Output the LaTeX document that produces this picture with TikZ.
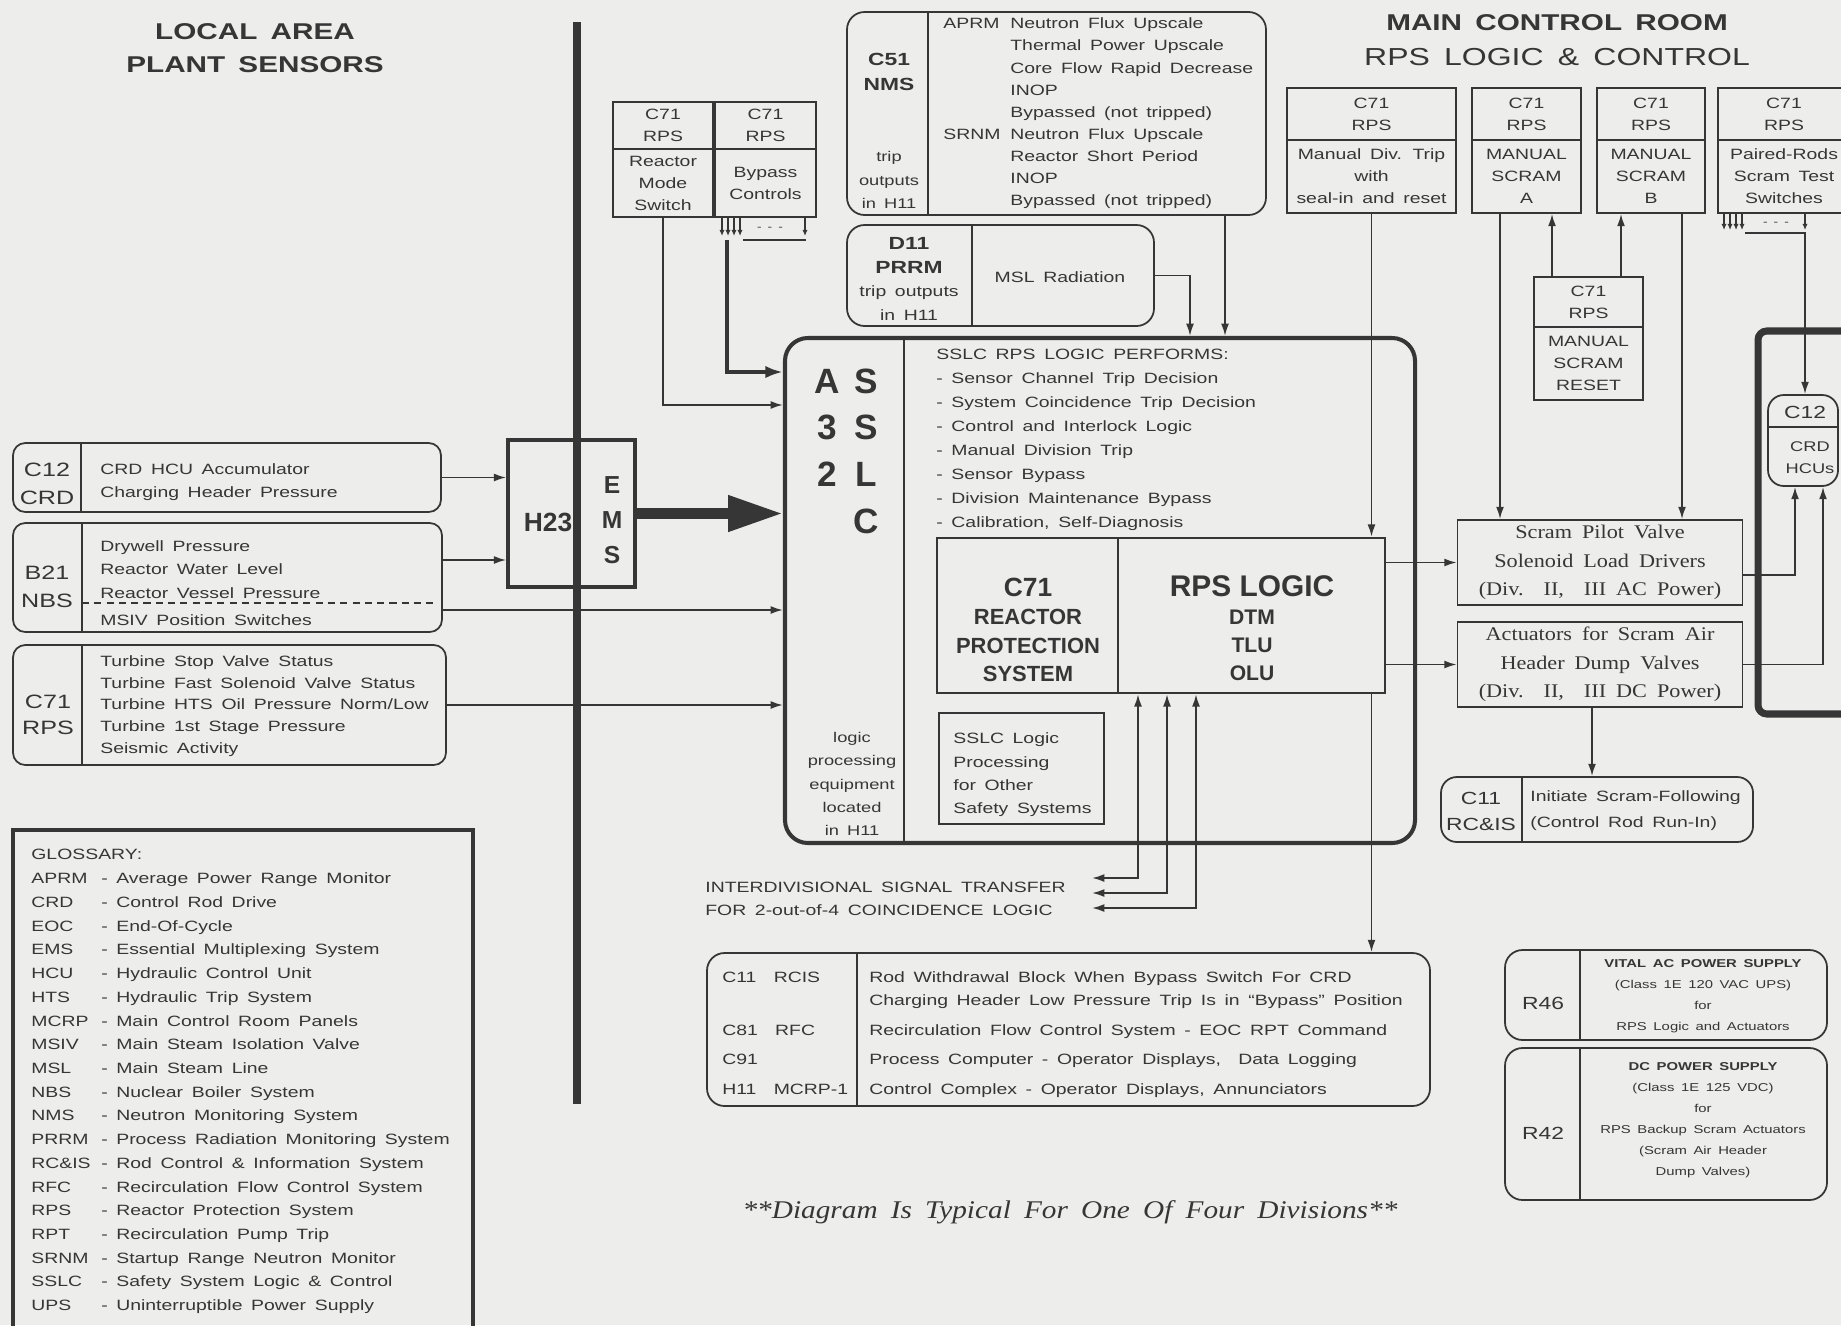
\documentclass[tikz,border=0pt]{standalone}
\usepackage{fontspec}
\setmainfont{Liberation Sans}[FakeStretch=1.3, WordSpace=1.6]
\newfontfamily\plainsans{Liberation Sans}
\newfontfamily\notefont{Liberation Serif}[FakeStretch=1.15, WordSpace=1.8]
\usetikzlibrary{arrows.meta, positioning, fit, calc}
\usepackage{xcolor}
\definecolor{ink}{HTML}{363636}
\definecolor{paper}{HTML}{EDEDEB}
\tikzset{
    box/.style={
        rectangle, draw=ink, line width=1pt, inner sep=0pt,
        text=ink, align=center, font=\fontsize{8.5}{12.5}\selectfont
    },
    roundbox/.style={
        box, rounded corners=7pt
    },
    headcell/.style={
        box, minimum height=#1
    },
    txt/.style={
        inner sep=0pt, text=ink, align=center, font=\fontsize{8.5}{12.5}\selectfont
    },
    tagtxt/.style={
        txt, font=\fontsize{11}{15.8}\selectfont
    },
    bigtxt/.style={
        txt, font=\plainsans\bfseries\fontsize{14}{19.8}\selectfont
    },
    valvebox/.style={
        box, minimum width=5.7cm, minimum height=1.7cm,
        font=\notefont\fontsize{11}{16.2}\selectfont
    },
    arrow/.style={
        -{Latex[length=7pt,width=4.5pt]}, line width=1pt, draw=ink
    },
    twoway/.style={
        {Latex[length=7pt,width=4.5pt]}-{Latex[length=7pt,width=4.5pt]}, line width=1pt, draw=ink
    },
    thickarrow/.style={
        -{Latex[length=10pt,width=7pt]}, line width=2.4pt, draw=ink
    },
    bigarrow/.style={
        -{Triangle[length=1.1cm,width=0.68cm]}, line width=6pt, draw=ink
    },
    bustip/.style={
        -{Latex[length=3.5pt,width=3pt]}, line width=0.8pt, draw=ink
    },
    heavy/.style={
        line width=4pt, draw=ink
    },
    divider/.style={
        line width=1pt, draw=ink
    }
}

\begin{document}
\begin{tikzpicture}[x=0.02cm, y=-0.02cm]

    \useasboundingbox (0,0) rectangle (1841,1325);
    \clip (0,0) rectangle (1841,1325);
    \fill[paper] (0,0) rectangle (1841,1325);

    % titles
    \node[txt, font=\bfseries\fontsize{13}{18.7}\selectfont] (localtitle) at (255,48) {LOCAL AREA\\PLANT SENSORS};
    \node[txt, font=\bfseries\fontsize{13}{15}\selectfont]   (mcrtitle)   at (1557,23) {MAIN CONTROL ROOM};
    \node[txt, font=\fontsize{14}{16}\selectfont]             (mcrsub)     at (1557,57) {RPS LOGIC \& CONTROL};

    \draw[heavy] (577,22) -- (577,1104);

    % local area sensors
    \node[roundbox, fit={(13,443) (441,512)}] (c12) {};
    \draw[divider] (81,443) -- (81,512);
    \node[tagtxt] (c12tag) at (47,484) {C12\\CRD};
    \node[txt, anchor=west, align=left, font=\fontsize{8.5}{13}\selectfont] (c12sig) at (100,482)
        {CRD HCU Accumulator\\Charging Header Pressure};

    \node[roundbox, fit={(13,523) (442,632)}] (b21) {};
    \draw[divider] (82,523) -- (82,632);
    \draw[divider, dash pattern=on 4pt off 3pt] (82,603) -- (436,603);
    \node[tagtxt] (b21tag) at (47,587) {B21\\NBS};
    \node[txt, anchor=west, align=left, font=\fontsize{8.5}{13.3}\selectfont] (b21sig) at (100,583)
        {Drywell Pressure\\Reactor Water Level\\Reactor Vessel Pressure\\[2pt]MSIV Position Switches};

    \node[roundbox, fit={(13,645) (446,765)}] (c71s) {};
    \draw[divider] (82,645) -- (82,765);
    \node[tagtxt, font=\fontsize{11}{14.7}\selectfont] (c71stag) at (48,715) {C71\\RPS};
    \node[txt, anchor=west, align=left, font=\fontsize{8.5}{12.3}\selectfont] (c71ssig) at (100,706)
        {Turbine Stop Valve Status\\Turbine Fast Solenoid Valve Status\\Turbine HTS Oil Pressure Norm/Low\\Turbine 1st Stage Pressure\\Seismic Activity};

    \node[box, line width=2pt, fit={(508,440) (635,587)}] (h23) {};
    \node[txt, font=\plainsans\bfseries\fontsize{15}{18}\selectfont] (h23tag) at (548,522) {H23};
    \node[bigtxt] (ems) at (612,520) {E\\M\\S};

    % glossary
    \node[box, line width=1.8pt, fit={(13,830) (473,1345)}] (glossary) {};
    \node[txt, anchor=north west, font=\fontsize{8.5}{13.5}\selectfont] (glossarytxt) at (31,843) {%
        \begin{tabular}{@{}p{1.4cm}@{}p{0.3cm}@{}l@{}}
        \multicolumn{3}{@{}l@{}}{GLOSSARY:}\\
        APRM  & - & Average Power Range Monitor\\
        CRD   & - & Control Rod Drive\\
        EOC   & - & End-Of-Cycle\\
        EMS   & - & Essential Multiplexing System\\
        HCU   & - & Hydraulic Control Unit\\
        HTS   & - & Hydraulic Trip System\\
        MCRP  & - & Main Control Room Panels\\
        MSIV  & - & Main Steam Isolation Valve\\
        MSL   & - & Main Steam Line\\
        NBS   & - & Nuclear Boiler System\\
        NMS   & - & Neutron Monitoring System\\
        PRRM  & - & Process Radiation Monitoring System\\
        RC\&IS & - & Rod Control \& Information System\\
        RFC   & - & Recirculation Flow Control System\\
        RPS   & - & Reactor Protection System\\
        RPT   & - & Recirculation Pump Trip\\
        SRNM  & - & Startup Range Neutron Monitor\\
        SSLC  & - & Safety System Logic \& Control\\
        UPS   & - & Uninterruptible Power Supply
        \end{tabular}};

    % switches and monitors above SSLC
    \node[headcell=0.94cm, minimum width=2.0cm]  (rmhead) at (663,125.5)  {C71\\RPS};
    \node[headcell=1.36cm, minimum width=2.0cm]  (rmbody) at (663,183)    {Reactor\\Mode\\Switch};
    \node[headcell=0.94cm, minimum width=2.02cm] (bphead) at (765.5,125.5) {C71\\RPS};
    \node[headcell=1.36cm, minimum width=2.02cm] (bpbody) at (765.5,183)   {Bypass\\Controls};

    \draw[bustip] (722,218) -- (722,236);
    \draw[bustip] (728,218) -- (728,236);
    \draw[bustip] (734,218) -- (734,236);
    \draw[bustip] (740,218) -- (740,236);
    \node[txt, font=\fontsize{6}{6}\selectfont] (bpdots) at (770,229) {- - -};
    \draw[bustip] (805,218) -- (805,236);
    \draw[divider, line width=0.8pt] (743,240) -- (806,240);
    \coordinate (bpbus) at (727,240);

    \node[roundbox, rounded corners=10pt, fit={(847,12) (1266,215)}] (c51) {};
    \draw[divider] (928,12) -- (928,215);
    \node[txt, font=\bfseries\fontsize{10}{14.7}\selectfont] (c51tag) at (889,72) {C51\\NMS};
    \node[txt, font=\fontsize{8}{13.3}\selectfont] (c51trip) at (889,180) {trip\\outputs\\in H11};
    \node[txt, anchor=north west, font=\fontsize{8.5}{12.6}\selectfont] (c51list) at (943,13) {%
        \begin{tabular}{@{}p{1.34cm}@{}l@{}}
        APRM & Neutron Flux Upscale\\
             & Thermal Power Upscale\\
             & Core Flow Rapid Decrease\\
             & INOP\\
             & Bypassed (not tripped)\\
        SRNM & Neutron Flux Upscale\\
             & Reactor Short Period\\
             & INOP\\
             & Bypassed (not tripped)
        \end{tabular}};

    \node[roundbox, rounded corners=10pt, fit={(847,225) (1154,326)}] (d11) {};
    \draw[divider] (972,225) -- (972,326);
    \node[txt, font=\fontsize{8.5}{13.4}\selectfont] (d11tag) at (909,279)
        {{\bfseries\fontsize{10}{13.4}\selectfont D11}\\{\bfseries\fontsize{10}{13.4}\selectfont PRRM}\\trip outputs\\in H11};
    \node[txt] (msl) at (1060,277) {MSL Radiation};

    % main control room switches
    \node[headcell=1.04cm, minimum width=3.38cm] (mdhead) at (1371.5,114)   {C71\\RPS};
    \node[headcell=1.46cm, minimum width=3.38cm] (mdbody) at (1371.5,176.5) {Manual Div. Trip\\with\\seal-in and reset};
    \node[headcell=1.04cm, minimum width=2.18cm] (sahead) at (1526.5,114)   {C71\\RPS};
    \node[headcell=1.46cm, minimum width=2.18cm] (sabody) at (1526.5,176.5) {MANUAL\\SCRAM\\A};
    \node[headcell=1.04cm, minimum width=2.16cm] (sbhead) at (1651,114)     {C71\\RPS};
    \node[headcell=1.46cm, minimum width=2.16cm] (sbbody) at (1651,176.5)   {MANUAL\\SCRAM\\B};
    \node[headcell=1.04cm, minimum width=2.64cm] (prhead) at (1784,114)     {C71\\RPS};
    \node[headcell=1.46cm, minimum width=2.64cm] (prbody) at (1784,176.5)   {Paired-Rods\\Scram Test\\Switches};
    \node[headcell=1.0cm,  minimum width=2.18cm] (rshead) at (1588.5,302)   {C71\\RPS};
    \node[headcell=1.46cm, minimum width=2.18cm] (rsbody) at (1588.5,363.5) {MANUAL\\SCRAM\\RESET};

    \draw[bustip] (1724,214) -- (1724,230);
    \draw[bustip] (1730,214) -- (1730,230);
    \draw[bustip] (1736,214) -- (1736,230);
    \draw[bustip] (1742,214) -- (1742,230);
    \node[txt, font=\fontsize{6}{6}\selectfont] (prdots) at (1776,224) {- - -};
    \draw[bustip] (1805,214) -- (1805,230);
    \draw[divider, line width=0.8pt] (1745,233) -- (1806,233);
    \coordinate (prbus) at (1805,233);

    % SSLC cabinet
    \node[box, line width=2.3pt, rounded corners=13pt, fit={(785,338) (1415,843)}] (a3) {};
    \draw[divider] (904,338) -- (904,843);
    \node[txt, font=\plainsans\bfseries\fontsize{20}{26.6}\selectfont] (a3sslc) at (847,454)
        {\begin{tabular}{@{}c@{\hspace{0.27cm}}c@{}}A&S\\3&S\\2&L\\&C\end{tabular}};
    \node[txt, font=\fontsize{8}{13.2}\selectfont] (a3loc) at (852,784) {logic\\processing\\equipment\\located\\in H11};
    \node[txt, anchor=north west, align=left, font=\fontsize{8.5}{13.6}\selectfont] (a3tasks) at (936,349)
        {SSLC RPS LOGIC PERFORMS:\\- Sensor Channel Trip Decision\\- System Coincidence Trip Decision\\- Control and Interlock Logic\\- Manual Division Trip\\- Sensor Bypass\\- Division Maintenance Bypass\\- Calibration, Self-Diagnosis};

    \node[box, line width=1.4pt, fit={(937,538) (1118,693)}]  (c71rps)   {};
    \node[box, line width=1.4pt, fit={(1118,538) (1385,693)}] (rpslogic) {};
    \node[txt, font=\plainsans\bfseries\fontsize{12.5}{16.2}\selectfont] (c71rpstxt) at (1028,630)
        {{\fontsize{15}{16.2}\selectfont C71}\\REACTOR\\PROTECTION\\SYSTEM};
    \node[txt, font=\plainsans\bfseries\fontsize{12}{16}\selectfont] (rpslogictxt) at (1252,628)
        {{\fontsize{17}{17}\selectfont RPS LOGIC}\\DTM\\TLU\\OLU};

    \node[box, fit={(939,713) (1104,824)}] (sslcother) {};
    \node[txt, anchor=west, align=left, font=\fontsize{8.5}{13.3}\selectfont] (sslcothertxt) at (953,775)
        {SSLC Logic\\Processing\\for Other\\Safety Systems};

    % actuation
    \node[valvebox] (spv) at (1600,562.5) {Scram Pilot Valve\\Solenoid Load Drivers\\(Div.~~II,~~III AC Power)};
    \node[valvebox] (adv) at (1600,664.5) {Actuators for Scram Air\\Header Dump Valves\\(Div.~~II,~~III DC Power)};

    \node[roundbox, rounded corners=9pt, fit={(1441,777) (1753,842)}] (rcis) {};
    \draw[divider] (1522,777) -- (1522,842);
    \node[txt, font=\fontsize{10}{14.8}\selectfont] (rcistag) at (1481,811) {C11\\RC\&IS};
    \node[txt, anchor=west, align=left, font=\fontsize{8.5}{14.8}\selectfont] (rcistxt) at (1530,811)
        {Initiate Scram-Following\\(Control Rod Run-In)};

    \node[roundbox, rounded corners=9pt, fit={(1768,395) (1838,486)}] (hcu) {};
    \draw[divider] (1768,427) -- (1838,427);
    \node[txt, font=\fontsize{10}{12}\selectfont] (hcutag) at (1805,412) {C12};
    \node[txt, font=\fontsize{8}{12.5}\selectfont] (hcutxt) at (1810,458) {CRD\\HCUs};
    \draw[heavy, rounded corners=5pt] (1850,331) -- (1758,331) -- (1758,714) -- (1850,714);

    % other systems and power
    \node[roundbox, rounded corners=10pt, fit={(707,953) (1430,1106)}] (outputs) {};
    \draw[divider] (857,953) -- (857,1106);
    \node[txt, anchor=north west, font=\fontsize{8.5}{13}\selectfont] (outputstxt) at (722,966) {%
        \begin{tabular}{@{}p{2.94cm}@{}l@{}}
        C11~~RCIS    & Rod Withdrawal Block When Bypass Switch For CRD\\
                     & Charging Header Low Pressure Trip Is in ``Bypass'' Position\\[4pt]
        C81~~RFC     & Recirculation Flow Control System - EOC RPT Command\\[4pt]
        C91          & Process Computer - Operator Displays,~~Data Logging\\[4pt]
        H11~~MCRP-1  & Control Complex - Operator Displays, Annunciators
        \end{tabular}};

    \node[txt, anchor=west, align=left, font=\fontsize{8.5}{13}\selectfont] (interdiv) at (705,899)
        {INTERDIVISIONAL SIGNAL TRANSFER\\FOR 2-out-of-4 COINCIDENCE LOGIC};

    \node[roundbox, rounded corners=10pt, fit={(1505,950) (1827,1040)}] (r46) {};
    \draw[divider] (1580,950) -- (1580,1040);
    \node[txt, font=\fontsize{10}{12}\selectfont] (r46tag) at (1543,1003) {R46};
    \node[txt, font=\fontsize{6.5}{11.9}\selectfont] (r46txt) at (1703,996)
        {\textbf{VITAL AC POWER SUPPLY}\\(Class 1E 120 VAC UPS)\\for\\RPS Logic and Actuators};

    \node[roundbox, rounded corners=10pt, fit={(1505,1048) (1827,1200)}] (r42) {};
    \draw[divider] (1580,1048) -- (1580,1200);
    \node[txt, font=\fontsize{10}{12}\selectfont] (r42tag) at (1543,1133) {R42};
    \node[txt, font=\fontsize{6.5}{11.9}\selectfont] (r42txt) at (1703,1120)
        {\textbf{DC POWER SUPPLY}\\(Class 1E 125 VDC)\\for\\RPS Backup Scram Actuators\\(Scram Air Header\\Dump Valves)};

    \node[txt, font=\notefont\itshape\fontsize{14.5}{16}\selectfont] (note) at (1070,1212)
        {**Diagram Is Typical For One Of Four Divisions**};

    % connectors
    \draw[arrow]    (c12.east) -- (c12.east -| h23.west);
    \draw[arrow]    (b21.east |- 0,560) -- (h23.west |- 0,560);
    \draw[arrow]    (b21.east |- 0,610) -- (a3.west |- 0,610);
    \draw[arrow]    (c71s.east) -- (c71s.east -| a3.west);
    \draw[bigarrow] (h23.east) -- (h23.east -| a3.west);

    \draw[arrow]      (rmbody.south) |- (a3.west |- 0,405);
    \draw[thickarrow] (bpbus) |- (a3.west |- 0,372);
    \draw[arrow]      (c51.south -| 1225,0) -- (a3.north -| 1225,0);
    \draw[arrow]      (d11.east) -| (a3.north -| 1190,0);
    \draw[arrow]      (mdbody.south) -- (mdbody.south |- rpslogic.north);
    \draw[arrow]      (mdbody.south |- rpslogic.south) -- (mdbody.south |- outputs.north);

    \draw[arrow] (rshead.north -| 1552,0) -- (sabody.south -| 1552,0);
    \draw[arrow] (rshead.north -| 1621,0) -- (sbbody.south -| 1621,0);
    \draw[arrow] (sabody.south -| 1500,0) -- (spv.north -| 1500,0);
    \draw[arrow] (sbbody.south -| 1682,0) -- (spv.north -| 1682,0);

    \draw[arrow] (rpslogic.east |- spv.west) -- (spv.west);
    \draw[arrow] (rpslogic.east |- adv.west) -- (adv.west);
    \draw[arrow] (spv.east |- 0,575) -| (hcu.south -| 1795,0);
    \draw[arrow] (adv.east) -| (hcu.south -| 1823,0);
    \draw[arrow] (adv.south -| 1592,0) -- (rcis.north -| 1592,0);
    \draw[arrow] (prbus) -- (prbus |- hcu.north);

    \coordinate (idA) at (1092,878);
    \coordinate (idB) at (1092,893);
    \coordinate (idC) at (1092,908);
    \draw[twoway] (idA) -| (rpslogic.south -| 1138,0);
    \draw[twoway] (idB) -| (rpslogic.south -| 1167,0);
    \draw[twoway] (idC) -| (rpslogic.south -| 1196,0);

\end{tikzpicture}
\end{document}
